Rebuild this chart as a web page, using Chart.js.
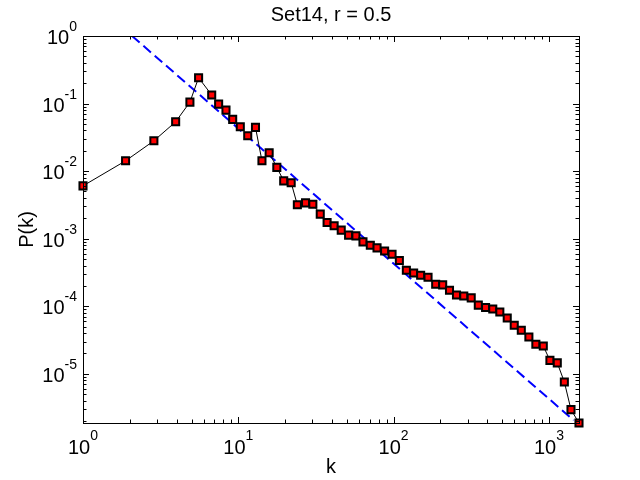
<!DOCTYPE html>
<html>
<head>
<meta charset="utf-8">
<script src="https://cdn.jsdelivr.net/npm/chart.js@4/dist/chart.umd.min.js"></script>
<style>
    html, body { margin: 0; padding: 0; background: #fff; }
    #wrap { width: 640px; height: 480px; }
</style>
</head>
<body>
<div id="wrap"><canvas id="degreeChart"></canvas></div>
<script>
// degree distribution
const kValues = [
    1, 1.88, 2.86, 3.95, 4.88, 5.55, 6.74, 7.47, 8.33, 9.20,
    10.3, 11.5, 12.9, 14.2, 15.8, 17.7, 19.6, 21.9, 24.0, 27.1,
    30.2, 33.7, 37.3, 41.4, 46.0, 51.3, 57.2, 63.5, 70.8, 78.2,
    87.5, 97.7, 108.9, 120.8, 134.6, 149.3, 166.6, 186.6, 207, 229,
    254, 283, 316, 351, 391, 435, 483, 539, 598, 664,
    743, 824, 920, 1015, 1132, 1257, 1387, 1562,
];
const pValues = [
    0.00605, 0.0142, 0.0281, 0.0537, 0.105, 0.241, 0.134, 0.098, 0.080, 0.0583,
    0.0453, 0.0333, 0.0444, 0.0142, 0.0187, 0.01135, 0.00718, 0.00671, 0.00317, 0.00339,
    0.00324, 0.00231, 0.00174, 0.00155, 0.00134, 0.00113, 0.00110, 0.000897, 0.000801, 0.000731,
    0.000659, 0.000589, 0.000475, 0.000341, 0.000311, 0.000288, 0.000269, 0.000212, 0.000207, 0.000173,
    0.000147, 0.000142, 0.000133, 0.000104, 9.57e-5, 9.12e-5, 8.24e-5, 6.71e-5, 5.23e-5, 4.41e-5,
    3.51e-5, 2.74e-5, 2.58e-5, 1.58e-5, 1.45e-5, 7.56e-6, 2.95e-6, 1.87e-6,
];

// power-law fit line end points
const fitK = [2.07, 1443];
const fitP = [1.0, 2.05e-6];

const xDecades = [0, 1, 2, 3];
const yDecades = [0, -1, -2, -3, -4, -5];

const titleText = 'Set14, r = 0.5';
const xLabel = 'k';
const yLabel = 'P(k)';

const fontFamily = '"Liberation Sans", Arial, Helvetica, sans-serif';

function minorValues(scale) {
    const out = [];
    const lo = Math.floor(Math.log10(scale.min));
    const hi = Math.ceil(Math.log10(scale.max));
    for (let e = lo; e <= hi; e++) {
        for (let m = 1; m <= 9; m++) {
            const v = m * Math.pow(10, e);
            if (v >= scale.min * 0.9999 && v <= scale.max * 1.0001) out.push({ v, major: m === 1 });
        }
    }
    return out;
}

const matlabAxes = {
    id: 'matlabAxes',
    afterDraw(chart) {
        const ctx = chart.ctx;
        const area = chart.chartArea;
        const xs = chart.scales.x;
        const ys = chart.scales.y;

        ctx.save();
        ctx.strokeStyle = '#000';
        ctx.lineWidth = 1;

        // box
        ctx.strokeRect(Math.round(area.left) + 0.5, Math.round(area.top) + 0.5,
            Math.round(area.right - area.left), Math.round(area.bottom - area.top));

        // inward ticks on all four sides
        ctx.beginPath();
        minorValues(xs).forEach(t => {
            const px = Math.round(xs.getPixelForValue(t.v)) + 0.5;
            const len = t.major ? 6 : 3.5;
            ctx.moveTo(px, area.bottom);
            ctx.lineTo(px, area.bottom - len);
            ctx.moveTo(px, area.top);
            ctx.lineTo(px, area.top + len);
        });
        minorValues(ys).forEach(t => {
            const py = Math.round(ys.getPixelForValue(t.v)) + 0.5;
            const len = t.major ? 6 : 3.5;
            ctx.moveTo(area.left, py);
            ctx.lineTo(area.left + len, py);
            ctx.moveTo(area.right, py);
            ctx.lineTo(area.right - len, py);
        });
        ctx.stroke();

        ctx.fillStyle = '#000';
        ctx.textBaseline = 'alphabetic';
        ctx.textAlign = 'left';
        const baseFont = '20px ' + fontFamily;
        const supFont = '14px ' + fontFamily;

        // x tick labels
        xDecades.forEach(e => {
            const px = xs.getPixelForValue(Math.pow(10, e));
            ctx.font = baseFont;
            const wb = ctx.measureText('10').width;
            ctx.font = supFont;
            const ws = ctx.measureText(String(e)).width;
            const x0 = px - (wb + ws) / 2;
            ctx.font = baseFont;
            ctx.fillText('10', x0, area.bottom + 31);
            ctx.font = supFont;
            ctx.fillText(String(e), x0 + wb, area.bottom + 17);
        });

        // y tick labels
        yDecades.forEach(e => {
            const py = ys.getPixelForValue(Math.pow(10, e));
            ctx.font = baseFont;
            const wb = ctx.measureText('10').width;
            ctx.font = supFont;
            const ws = ctx.measureText(String(e)).width;
            const right = area.left - 6;
            ctx.font = baseFont;
            ctx.fillText('10', right - ws - wb, py + 8);
            ctx.font = supFont;
            ctx.fillText(String(e), right - ws, py - 5);
        });

        // title and axis labels
        const cx = (area.left + area.right) / 2;
        const cy = (area.top + area.bottom) / 2;
        ctx.textAlign = 'center';
        ctx.font = '20px ' + fontFamily;
        ctx.fillText(titleText, cx, 21);
        ctx.fillText(xLabel, cx, 473);

        ctx.translate(33, cy);
        ctx.rotate(-Math.PI / 2);
        ctx.fillText(yLabel, 0, 0);
        ctx.restore();
    }
};

const points = kValues.map((k, i) => ({ x: k, y: pValues[i] }));
const fitPoints = fitK.map((k, i) => ({ x: k, y: fitP[i] }));

new Chart(document.getElementById('degreeChart'), {
    type: 'scatter',
    data: {
        datasets: [
            {
                label: 'P(k)',
                data: points,
                showLine: true,
                borderColor: '#000',
                borderWidth: 1,
                pointStyle: 'rect',
                pointRadius: 5,
                pointHoverRadius: 5,
                pointBackgroundColor: '#ff0000',
                pointBorderColor: '#000',
                pointBorderWidth: 2,
                tension: 0,
                clip: false,
                order: 0,
            },
            {
                label: 'fit',
                data: fitPoints,
                showLine: true,
                borderColor: '#0000ff',
                borderWidth: 2,
                borderDash: [10, 5],
                pointRadius: 0,
                tension: 0,
                order: 1,
            },
        ],
    },
    options: {
        responsive: true,
        maintainAspectRatio: false,
        animation: false,
        events: [],
        layout: {
            padding: { left: 83, right: 61, top: 36, bottom: 57 },
        },
        plugins: {
            legend: { display: false },
            title: { display: false },
            tooltip: { enabled: false },
        },
        scales: {
            x: {
                type: 'logarithmic',
                display: false,
                min: 1,
                max: 1562,
            },
            y: {
                type: 'logarithmic',
                display: false,
                min: 1.87e-6,
                max: 1,
            },
        },
    },
    plugins: [matlabAxes],
});
</script>
</body>
</html>
